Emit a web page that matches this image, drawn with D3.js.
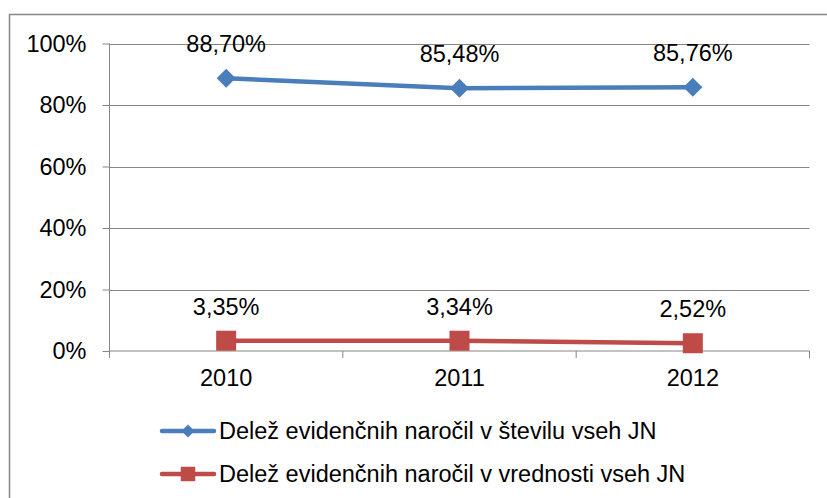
<!DOCTYPE html>
<html>
<head>
<meta charset="utf-8">
<script src="https://cdn.jsdelivr.net/npm/d3@7"></script>
<style>
html,body{margin:0;padding:0;background:#fff;}
svg{display:block;font-family:"Liberation Sans",Arial,sans-serif;}
</style>
</head>
<body>
<svg id="chart" width="827" height="498"></svg>
<script>
const categories = ["2010", "2011", "2012"];
const seriesNames = [
  "Delež evidenčnih naročil v številu vseh JN",
  "Delež evidenčnih naročil v vrednosti vseh JN"
];
const seriesCount = [88.70, 85.48, 85.76];
const seriesValue = [3.35, 3.34, 2.52];
const labelsCount = ["88,70%", "85,48%", "85,76%"];
const labelsValue = ["3,35%", "3,34%", "2,52%"];
const yTicks = [0, 20, 40, 60, 80, 100];

const series = [
  {name: seriesNames[0], values: seriesCount, labels: labelsCount, color: "#4A7EBB", marker: "diamond"},
  {name: seriesNames[1], values: seriesValue, labels: labelsValue, color: "#BE4B48", marker: "square"}
];

const svg = d3.select("#chart");
const L = 109.5, R = 809.5, T = 43.5, B = 351;
const fs = 23.5;

// outer border
svg.append("rect").attr("x", 9.5).attr("y", 14.5).attr("width", 840).attr("height", 500)
  .attr("fill", "none").attr("stroke", "#888").attr("stroke-width", 1.5);

const x = d3.scaleBand().domain(categories).range([L, R]).paddingInner(0).paddingOuter(0);
const y = d3.scaleLinear().domain([0, 100]).range([B, T]);

// gridlines
svg.append("g").selectAll("line").data(yTicks.filter(d => d > 0)).join("line")
  .attr("x1", L).attr("x2", R)
  .attr("y1", d => Math.round(y(d)) + 0.5).attr("y2", d => Math.round(y(d)) + 0.5)
  .attr("stroke", "#868686").attr("stroke-width", 1);

// y axis
const yAxis = d3.axisLeft(y).tickValues(yTicks).tickFormat(d => d + "%").tickSize(7).tickPadding(16);
const gy = svg.append("g").attr("transform", `translate(${L},0)`).call(yAxis);
gy.select(".domain").attr("stroke", "#868686").attr("d", `M0,${T}V${B + 7}`);
gy.selectAll(".tick line").attr("stroke", "#868686");
gy.selectAll(".tick text").attr("font-size", fs).attr("fill", "#000").attr("font-family", "Liberation Sans, Arial, sans-serif");

// x axis
const xAxis = d3.axisBottom(x).tickSize(0).tickPadding(18);
const gx = svg.append("g").attr("transform", `translate(0,${B})`).call(xAxis);
gx.select(".domain").attr("stroke", "#868686").attr("d", `M${L},0H${R}`);
gx.selectAll(".tick text").attr("font-size", fs).attr("fill", "#000").attr("font-family", "Liberation Sans, Arial, sans-serif");
// category boundary ticks
const bounds = categories.map(c => x(c)).concat([x(categories[categories.length - 1]) + x.bandwidth()]);
gx.append("g").selectAll("line").data(bounds).join("line")
  .attr("x1", d => d).attr("x2", d => d).attr("y1", 0).attr("y2", 7)
  .attr("stroke", "#868686");

const cx = c => x(c) + x.bandwidth() / 2;

series.forEach((s, si) => {
  const g = svg.append("g");
  const line = d3.line().x((d, i) => cx(categories[i])).y(d => y(d));
  g.append("path").datum(s.values).attr("d", line)
    .attr("fill", "none").attr("stroke", s.color).attr("stroke-width", 4.5).attr("stroke-linejoin", "round");
  const sym = s.marker === "diamond"
    ? d3.symbol().type(d3.symbolDiamond2).size(230)
    : d3.symbol().type(d3.symbolSquare).size(400);
  g.selectAll("path.m").data(s.values).join("path").attr("class", "m")
    .attr("transform", (d, i) => `translate(${cx(categories[i])},${y(d)})`)
    .attr("d", sym).attr("fill", s.color);
  g.selectAll("text").data(s.values).join("text")
    .attr("x", (d, i) => cx(categories[i])).attr("y", d => y(d) - 26)
    .attr("text-anchor", "middle").attr("font-size", fs).attr("fill", "#000")
    .text((d, i) => s.labels[i]);
});

// legend
const legY = [431, 474];
series.forEach((s, si) => {
  const g = svg.append("g");
  const ly = legY[si];
  g.append("line").attr("x1", 162).attr("x2", 214).attr("y1", ly).attr("y2", ly)
    .attr("stroke", s.color).attr("stroke-width", 4.5).attr("stroke-linecap", "round");
  const sym = s.marker === "diamond"
    ? d3.symbol().type(d3.symbolDiamond2).size(110)
    : d3.symbol().type(d3.symbolSquare).size(210);
  g.append("path").attr("transform", `translate(188,${ly})`).attr("d", sym).attr("fill", s.color);
  g.append("text").attr("x", 219).attr("y", ly + 8).attr("font-size", fs).attr("fill", "#000").text(s.name);
});
</script>
</body>
</html>
